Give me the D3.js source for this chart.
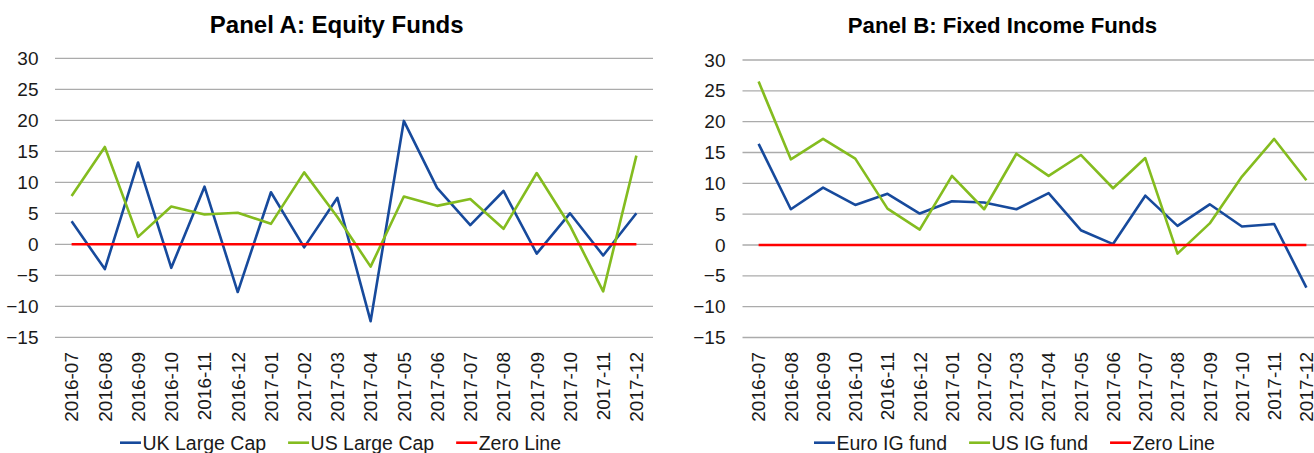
<!DOCTYPE html>
<html>
<head>
<meta charset="utf-8">
<script src="https://cdn.jsdelivr.net/npm/d3@7"></script>
<style>
  html, body { margin: 0; padding: 0; background: #fff; }
  svg { display: block; font-family: "Liberation Sans", Arial, sans-serif; }
</style>
</head>
<body>
<svg id="chart" width="1314" height="453"></svg>
<script>
// ---- data ----
const months = ["2016-07","2016-08","2016-09","2016-10","2016-11","2016-12",
  "2017-01","2017-02","2017-03","2017-04","2017-05","2017-06",
  "2017-07","2017-08","2017-09","2017-10","2017-11","2017-12"];
const yTicks = [-15, -10, -5, 0, 5, 10, 15, 20, 25, 30];

const ukLargeCap = [3.7, -4.0, 13.2, -3.8, 9.3, -7.7, 8.4, -0.5, 7.5, -12.4, 19.9, 9.1, 3.1, 8.6, -1.5, 5.0, -1.8, 5.0];
const usLargeCap = [7.8, 15.7, 1.2, 6.1, 4.8, 5.1, 3.3, 11.6, 4.4, -3.6, 7.7, 6.2, 7.3, 2.5, 11.5, 3.0, -7.6, 14.3];
const euroIG     = [16.4, 5.8, 9.3, 6.5, 8.3, 5.1, 7.1, 6.9, 5.8, 8.4, 2.4, 0.15, 8.0, 3.1, 6.6, 3.0, 3.4, -6.9];
const usIG       = [26.5, 13.9, 17.2, 14.0, 5.9, 2.5, 11.2, 5.8, 14.8, 11.2, 14.6, 9.2, 14.1, -1.4, 3.5, 11.1, 17.2, 10.5];
const zeroLine   = months.map(() => 0);

const panelATitle = "Panel A: Equity Funds";
const panelBTitle = "Panel B: Fixed Income Funds";
const panelANames = ["UK Large Cap", "US Large Cap", "Zero Line"];
const panelBNames = ["Euro IG fund", "US IG fund", "Zero Line"];

// ---- styles ----
const BLUE = "#174a9c", GREEN = "#84bc1f", RED = "#ff0000", GRID = "#ababab";
const svg = d3.select("#chart");

function panel(cfg) {
  const g = svg.append("g");
  const x = d3.scaleBand().domain(months).range([cfg.x0, cfg.x1]);
  const y = d3.scaleLinear().domain([-15, 30]).range([cfg.yBottom, cfg.yTop]);

  // gridlines
  g.append("g").selectAll("line").data(yTicks).join("line")
    .attr("x1", cfg.x0).attr("x2", cfg.x1)
    .attr("y1", d => y(d)).attr("y2", d => y(d))
    .attr("stroke", GRID).attr("stroke-width", 1.3);

  // y axis labels
  const yAxis = d3.axisLeft(y).tickValues(yTicks).tickSize(0).tickPadding(0);
  const ya = g.append("g").attr("transform", `translate(${cfg.yLabelX},0)`).call(yAxis);
  ya.select(".domain").remove();
  ya.selectAll("text").attr("font-size", 19).attr("fill", "#1a1a1a")
    .attr("font-family", "Liberation Sans, Arial, sans-serif");

  // x axis labels
  const xAxis = d3.axisBottom(x).tickSize(0).tickPadding(0);
  const xa = g.append("g").attr("transform", `translate(0,${cfg.yBottom})`).call(xAxis);
  xa.select(".domain").remove();
  xa.selectAll("text")
    .attr("font-size", 19).attr("fill", "#1a1a1a")
    .attr("font-family", "Liberation Sans, Arial, sans-serif")
    .attr("transform", "rotate(-90)")
    .attr("text-anchor", "end")
    .attr("x", -(352 - cfg.yBottom)).attr("y", 0).attr("dy", "0.36em");

  const line = d3.line()
    .x((d, i) => x(months[i]) + x.bandwidth() / 2)
    .y(d => y(d));

  const series = [
    { vals: cfg.s1, color: BLUE },
    { vals: cfg.s2, color: GREEN },
  ];
  series.forEach(s => {
    g.append("path").datum(s.vals).attr("d", line)
      .attr("fill", "none").attr("stroke", s.color).attr("stroke-width", 2.6)
      .attr("stroke-linejoin", "round");
  });
  g.append("path").datum(zeroLine).attr("d", line)
    .attr("fill", "none").attr("stroke", RED).attr("stroke-width", 2.6);

  // title
  g.append("text").attr("x", cfg.titleX).attr("y", 33)
    .attr("text-anchor", "middle").attr("font-size", cfg.titleSize).attr("font-weight", "bold")
    .attr("fill", "#000").text(cfg.title);

  // legend
  const colors = [BLUE, GREEN, RED];
  let lx = cfg.legendX;
  cfg.names.forEach((n, i) => {
    g.append("line").attr("x1", lx).attr("x2", lx + 21)
      .attr("y1", 442.7).attr("y2", 442.7)
      .attr("stroke", colors[i]).attr("stroke-width", 2.6);
    const t = g.append("text").attr("x", lx + 22.5).attr("y", 449.5)
      .attr("font-size", 19.5).attr("fill", "#1a1a1a").text(n);
    lx += 22.5 + t.node().getComputedTextLength() + 22;
  });
}

panel({ x0: 55, x1: 653, yTop: 58.3, yBottom: 337.3, yLabelX: 38.5,
  s1: ukLargeCap, s2: usLargeCap, title: panelATitle, titleX: 336.7, titleSize: 24,
  names: panelANames, legendX: 120 });

panel({ x0: 742.5, x1: 1322.5, yTop: 60, yBottom: 337.5, yLabelX: 725.5,
  s1: euroIG, s2: usIG, title: panelBTitle, titleX: 1002.5, titleSize: 22.2,
  names: panelBNames, legendX: 814 });
</script>
</body>
</html>
